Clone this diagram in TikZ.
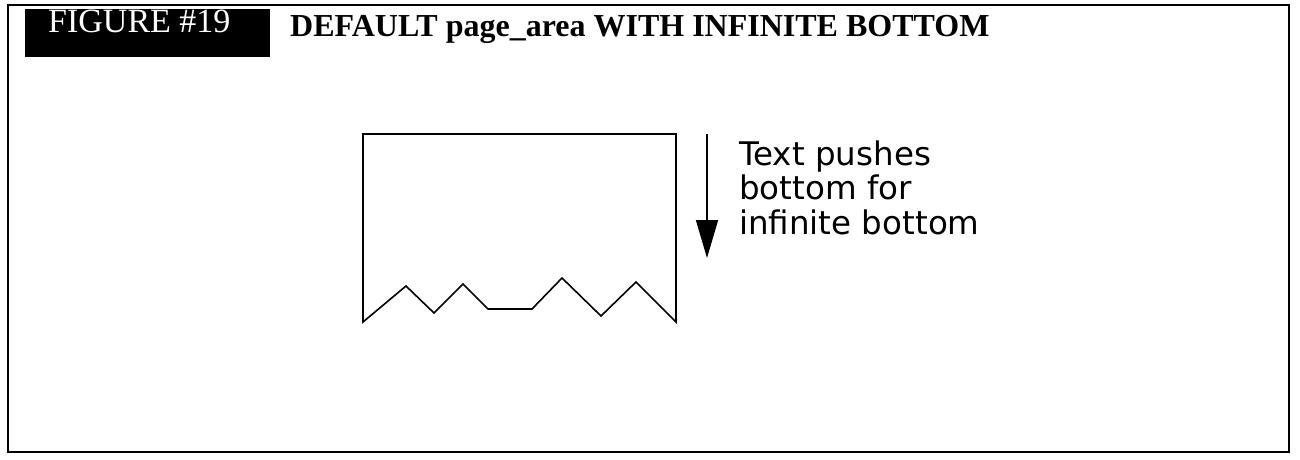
\documentclass[tikz,border=0pt]{standalone}
\usepackage{fontspec}
\setmainfont{Liberation Serif}
\newfontfamily\lblfont{DejaVu Sans}
\usetikzlibrary{arrows.meta}
\tikzset{
  frame/.style={draw=black, line width=1.8pt},
  shapeline/.style={draw=black, line width=1.6pt, line join=miter},
  figtag/.style={fill=black, draw=none},
  figtext/.style={text=white, inner sep=0pt, anchor=base west, font=\fontsize{34}{38}\selectfont},
  titletext/.style={inner sep=0pt, anchor=base west, font=\fontsize{32}{36}\selectfont\bfseries},
  lbltext/.style={inner sep=0pt, anchor=base west, font=\lblfont\fontsize{32.5}{35}\selectfont},
  pusharrow/.style={draw=black, line width=1.6pt, -{Triangle[length=38pt, width=22pt]}}
}
\begin{document}
\begin{tikzpicture}[x=1pt, y=-1pt]
\useasboundingbox (0,0) rectangle (1300,460);
\fill[white] (0,0) rectangle (1300,460);
\draw[frame] (8,5) rectangle (1289,452);
\fill[figtag] (25,9) rectangle (270,57);
\node[figtext] (fig) at (48,33) {FIGURE \#19};
\node[titletext] (title) at (290,37) {DEFAULT page\_area WITH INFINITE BOTTOM};
% page area with infinite bottom
\draw[shapeline] (363,322) -- (363,134) -- (676,134) -- (676,322)
  -- (636,282) -- (601,316) -- (562,278) -- (532,309) -- (488,309)
  -- (463,284) -- (434,313) -- (406,286) -- cycle;
\coordinate (atop) at (707,134);
\coordinate (abot) at (707,258);
\draw[pusharrow] (atop) -- (abot);
\node[lbltext] (lbl1) at (739,165) {Text pushes};
\node[lbltext] (lbl2) at (739,199) {bottom for};
\node[lbltext] (lbl3) at (739,234) {infinite bottom};
\end{tikzpicture}
\end{document}
